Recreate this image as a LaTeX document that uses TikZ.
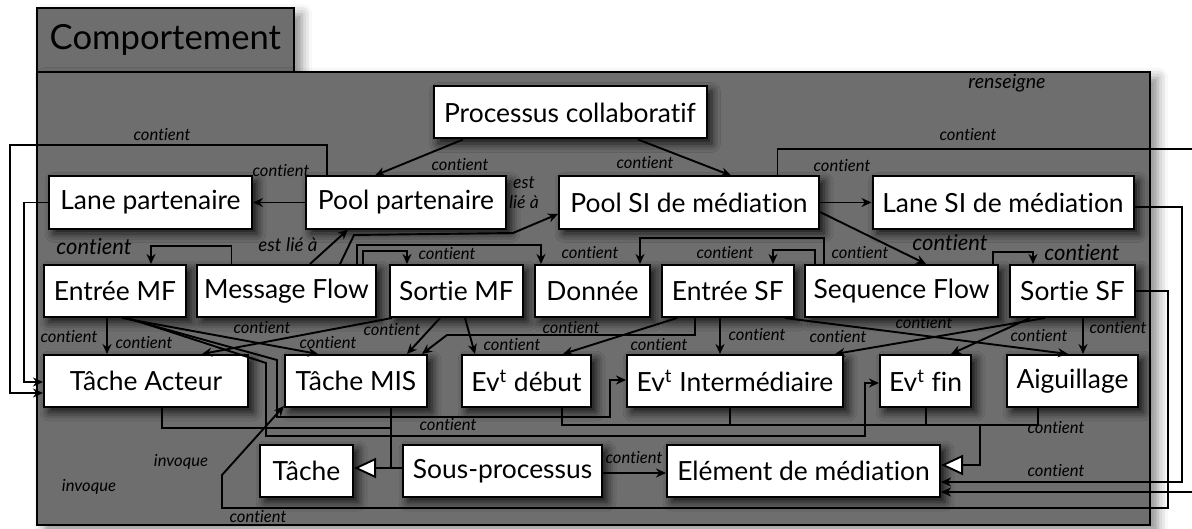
\documentclass[tikz,border=0pt]{standalone}
\usepackage{fontspec}
\setmainfont{Lato}[Ligatures=NoCommon]
\usepackage{tikz}
\usetikzlibrary{arrows.meta,shadows.blur}

\begin{document}
\begin{tikzpicture}[
  x=0.5pt, y=-0.5pt,
  >={Stealth[length=5pt,width=4.5pt]},
  box/.style={draw, fill=white, line width=1pt, minimum height=26pt, inner sep=1pt,
              font=\fontsize{13.2}{15}\selectfont,
              blur shadow={shadow xshift=2.5pt, shadow yshift=-2.5pt,
                           shadow blur radius=4.5pt, shadow opacity=85}},
  frame/.style={draw, fill=black!57, line width=1pt, outer sep=0pt,
                blur shadow={shadow xshift=4pt, shadow yshift=-3pt,
                             shadow blur radius=5pt, shadow opacity=45}},
  lab/.style={font=\fontsize{8.3}{9.6}\selectfont\itshape, inner sep=0pt, align=center},
  biglab/.style={lab, font=\fontsize{11}{13}\selectfont\itshape},
  con/.style={->, line width=0.95pt},
  lin/.style={line width=0.95pt},
  gen/.style={line width=0.95pt, -{Triangle[fill=white, length=11pt, width=10pt]}}
]
\useasboundingbox (0,0) rectangle (1192,529);

% ---------- frame ----------
\node[frame, minimum width=128.65pt, minimum height=31.7pt,
      font=\fontsize{17.3}{20}\selectfont] (tab) at (165.35,40) {Comportement};
\node[frame, minimum width=556.65pt, minimum height=226.65pt] (zone) at (593.35,298.35) {};

% ---------- boxes ----------
\node[box, minimum width=136.5pt] (proc)   at (570,112.5)   {Processus collaboratif};
\node[box, minimum width=101.5pt] (lanep)  at (150.5,202.5) {Lane partenaire};
\node[box, minimum width=100pt]   (poolp)  at (406,202.5)   {Pool partenaire};
\node[box, minimum width=130pt]   (poolsi) at (689,202.5)   {Pool SI de médiation};
\node[box, minimum width=130.5pt] (lanesi) at (1003,202.5)  {Lane SI de médiation};

\node[box, minimum width=71pt]    (entmf)  at (115,291)    {Entrée MF};
\node[box, minimum width=89.5pt]  (msgf)   at (286.5,291)  {Message Flow};
\node[box, minimum width=66.5pt]  (sormf)  at (456.5,291)  {Sortie MF};
\node[box, minimum width=57.5pt]  (donnee) at (592.5,291)  {Donnée};
\node[box, minimum width=66.25pt] (entsf)  at (727.75,291) {Entrée SF};
\node[box, minimum width=96.5pt]  (seqf)   at (901.5,291)  {Sequence Flow};
\node[box, minimum width=62.5pt]  (sorsf)  at (1072.5,291) {Sortie SF};

\node[box, minimum width=102pt]   (tacteur) at (146,381)    {Tâche Acteur};
\node[box, minimum width=71pt]    (tmis)    at (356,381)    {Tâche MIS};
\node[box, minimum width=64.5pt]  (evdeb)   at (526.5,381)  {Ev\textsuperscript{t} début};
\node[box, minimum width=108pt]   (evint)   at (735,381)    {Ev\textsuperscript{t} Intermédiaire};
\node[box, minimum width=45.5pt]  (evfin)   at (925.5,381)  {Ev\textsuperscript{t} fin};
\node[box, minimum width=65.5pt]  (aig)     at (1072.5,381) {Aiguillage};

\node[box, minimum width=46.5pt]  (tache) at (306.5,471) {Tâche};
\node[box, minimum width=99.5pt]  (sousp) at (502.5,471) {Sous-processus};
\node[box, minimum width=136.5pt] (elem)  at (803.5,471) {Elément de médiation};

% loose labels
\node[lab, font=\fontsize{9.8}{11}\selectfont\itshape] (rens) at (1007,83) {renseigne};
\node[lab] (invA) at (181,462) {invoque};
\node[lab] (invB) at (89,487) {invoque};

% ---------- top rows ----------
\draw[con] (proc.south -| 463,0) -- (poolp.north -| 375,0) node[lab] at (460,165) {contient};
\draw[con] (proc.south -| 638,0) -- (poolsi.north -| 731,0) node[lab] at (645,163) {contient};
\draw[con] (poolp.west) -- (lanep.east) node[lab] at (281,171) {contient};
\draw[con] (poolsi.east) -- (lanesi.west) node[lab] at (842,166) {contient};
\draw[con] (poolp.north -| 327,0) |- (9.6,145) |- (tacteur.west |- 0,393)
      node[lab] at (162,135) {contient};
\draw[con] (lanep.west) -| (24,382) -- (tacteur.west |- 0,382);
\draw[con] (poolsi.east |- 0,212) -- (seqf.north -| 926,0) node[biglab] at (950,243) {contient};
\draw[con] (poolsi.north -| 777.5,0) |- (1196,149) |- (elem.east |- 0,492)
      node[lab] at (968,135) {contient};
\draw[con] (lanesi.east |- 0,207) -| (1182,482) -- (elem.east |- 0,482)
      node[lab] at (1056,471) {contient};

% ---------- message flow ----------
\draw[con] (msgf.north -| 231.5,0) |- (151,246) -- (entmf.north -| 151,0)
      node[biglab] at (94,247) {contient};
\draw[con] (msgf.north -| 310,0) -- (poolp.south -| 348,0)
      node[lab, font=\fontsize{9.4}{11}\selectfont\itshape] at (288,245) {est lié à};
\draw[con] (msgf.north -| 340,0) -- (354,235) -- (513,233) -- (poolsi.west |- 0,214)
      node[lab, font=\fontsize{8.8}{10}\selectfont\itshape] at (524,193) {est\\lié à};
\draw[con] (msgf.north -| 357,0) |- (541,245) -- (donnee.north -| 541,0) node[lab] at (590,253) {contient};
\draw[con] (msgf.north -| 363,0) |- (407,251) -- (sormf.north -| 407,0) node[lab] at (447,254) {contient};

% ---------- sequence flow ----------
\draw[con] (seqf.north -| 824,0) |- (640,238) -- (donnee.north -| 640,0) node[lab] at (860,253) {contient};
\draw[con] (seqf.north -| 815,0) |- (773,250) -- (entsf.north -| 773,0) node[lab] at (725,253) {contient};
\draw[con] (seqf.north -| 993,0) |- (1033,252) -- (sorsf.north -| 1033,0) node[biglab] at (1082,253) {contient};

% ---------- row 2 to row 3 ----------
\draw[con] (entmf.south -| 107,0) -- (tacteur.north -| 107,0)
      node[lab] at (69,337) {contient} node[lab] at (144,343) {contient};
\draw[con] (entmf.south -| 122,0) -- (tmis.north -| 318,0) node[lab] at (328,343) {contient};
\draw[con] (entmf.south -| 125,0) -- (277,360) |- (610,417) |- (evint.west |- 0,380)
      node[lab] at (448,425) {contient};
\draw[con] (entmf.south -| 128,0) -- (266,363) |- (865,436) |- (evfin.west |- 0,383);
\draw[con] (sormf.south -| 392,0) -- (tacteur.north -| 202,0) node[lab] at (262,328) {contient};
\draw[con] (sormf.south -| 440,0) -- (tmis.north -| 407,0) node[lab] at (392,330) {contient};
\draw[con] (sormf.south -| 465,0) -- (evdeb.north -| 475,0) node[lab] at (512,345) {contient};
\draw[con] (entsf.south -| 695,0) |- (447,335) -- (tmis.north -| 422,0) node[lab] at (571,328) {contient};
\draw[con] (entsf.south -| 677,0) -- (evdeb.north -| 563,0) node[lab] at (659,345) {contient};
\draw[con] (entsf.south -| 720,0) -- (evint.north -| 720,0) node[lab] at (757,335) {contient};
\draw[con] (entsf.south -| 785,0) -- (aig.north -| 1068,0) node[lab] at (924,323) {contient};
\draw[con] (sorsf.south -| 1045,0) -- (evint.north -| 835,0) node[lab] at (838,337) {contient};
\draw[con] (sorsf.south -| 1030,0) -- (evfin.north -| 951,0) node[lab] at (1039,336) {contient};
\draw[con] (sorsf.south -| 1083,0) -- (aig.north -| 1083,0) node[lab] at (1118,328) {contient};
\draw[con] (sorsf.east) -| (1168,508) -| (222,475) -- ([yshift=1pt]tmis.south west)
      node[lab] at (258,517) {contient};

% ---------- bottom ----------
\coordinate (tjoin) at (391,468);
\coordinate (ejoin) at (980,425);
\draw[gen] (tmis.south -| tjoin) -- (tjoin) -- (tache.east |- tjoin);
\draw[lin] (sousp.west |- tjoin) -- (tjoin);
\draw[lin] (tacteur.south -| 162,0) |- (tjoin |- 0,428);
\draw[lin] (evdeb.south -| 562,0) |- (ejoin) -| (aig.south -| 1038,0);
\draw[lin] (evint.south -| 730,0) -- (ejoin -| 730,0);
\draw[lin] (evfin.south -| 926,0) -- (ejoin -| 926,0);
\draw[gen] (ejoin) |- (elem.east |- 0,465) node[lab] at (1056,428) {contient};
\draw[con] (sousp.east |- 0,473) -- (elem.west |- 0,473) node[lab] at (634,458) {contient};

\end{tikzpicture}
\end{document}
